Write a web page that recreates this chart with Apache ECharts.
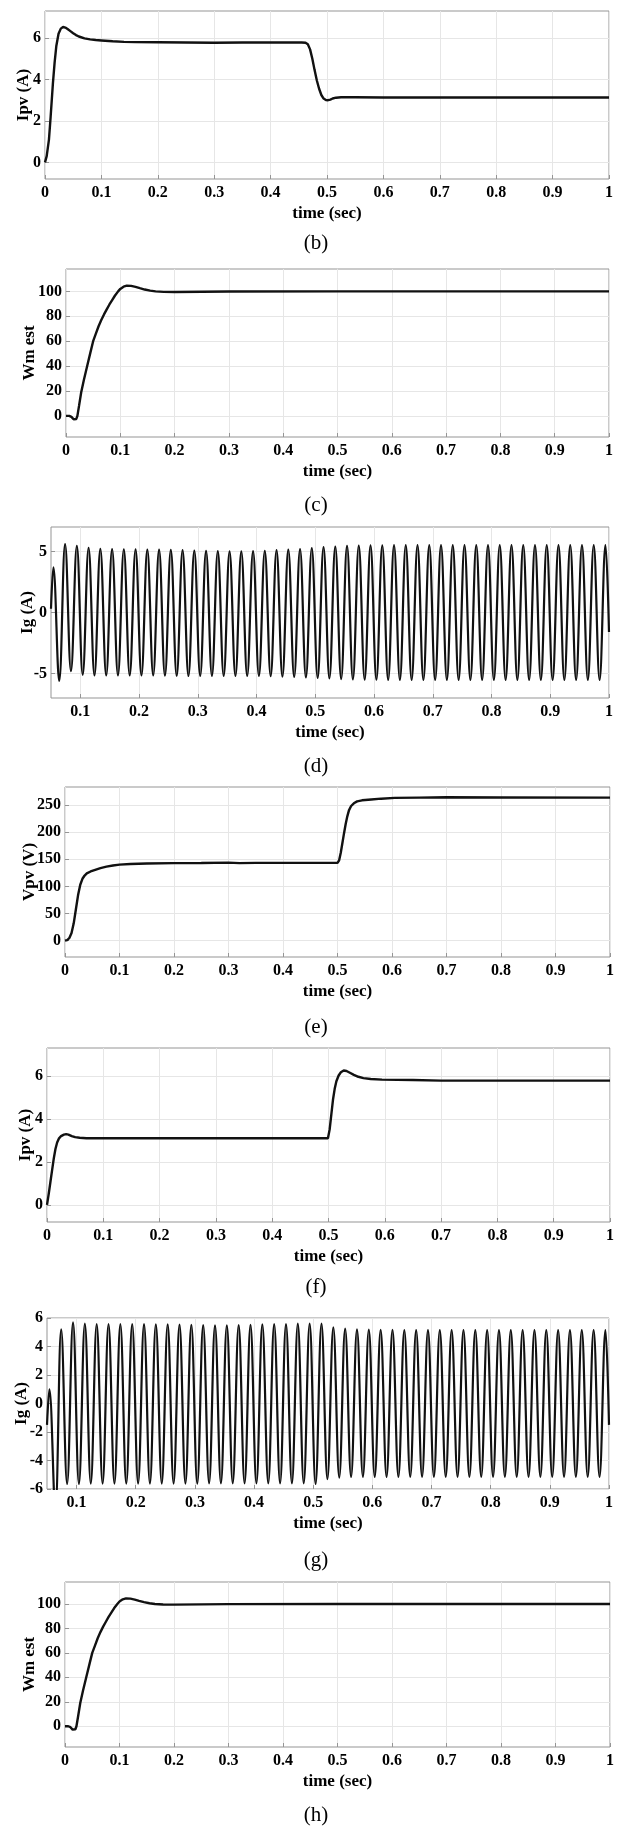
<!DOCTYPE html>
<html>
<head>
<meta charset="utf-8">
<script src="https://cdn.jsdelivr.net/npm/echarts@6/dist/echarts.min.js"></script>
<style>
html,body{margin:0;padding:0;background:#fff;}
#c{width:617px;height:1827px;}
</style>
</head>
<body>
<div id="c"></div>
<script>
// ---- tick values / labels ----
const xTicksFull = [0, 0.1, 0.2, 0.3, 0.4, 0.5, 0.6, 0.7, 0.8, 0.9, 1];
const xTicksIg = [0.1, 0.2, 0.3, 0.4, 0.5, 0.6, 0.7, 0.8, 0.9, 1];
const yTicksIpv = [0, 2, 4, 6];
const yTicksWm = [0, 20, 40, 60, 80, 100];
const yTicksIgD = [-5, 0, 5];
const yTicksVpv = [0, 50, 100, 150, 200, 250];
const yTicksIgG = [-6, -4, -2, 0, 2, 4, 6];
const captions = ['(b)', '(c)', '(d)', '(e)', '(f)', '(g)', '(h)'];
const yNames = ['Ipv (A)', 'Wm est', 'Ig (A)', 'Vpv (V)', 'Ipv (A)', 'Ig (A)', 'Wm est'];
const xName = 'time (sec)';

// ---- series data [time, value] ----
const ipvB = [[0,0],[0.003,0.3],[0.007,1.1],[0.01,2.2],[0.014,3.8],[0.017,4.8],[0.02,5.6],[0.024,6.2],[0.028,6.45],[0.032,6.53],
  [0.036,6.5],[0.04,6.43],[0.045,6.33],[0.05,6.23],[0.055,6.14],[0.06,6.07],[0.07,5.98],[0.08,5.93],[0.09,5.9],[0.1,5.88],
  [0.12,5.84],[0.14,5.81],[0.16,5.8],[0.2,5.79],[0.25,5.78],[0.3,5.77],[0.35,5.78],[0.4,5.78],[0.455,5.78],[0.462,5.77],
  [0.466,5.7],[0.47,5.45],[0.474,5.0],[0.478,4.45],[0.482,3.95],[0.486,3.55],[0.49,3.25],[0.494,3.08],[0.498,3.01],[0.502,3.0],
  [0.506,3.03],[0.51,3.08],[0.516,3.12],[0.525,3.14],[0.55,3.14],[0.6,3.13],[0.8,3.13],[1,3.13]];

const wmC = [[0,0],[0.006,0],[0.01,-0.8],[0.014,-2.8],[0.017,-3.6],[0.019,-2.5],[0.021,0],[0.024,8],[0.028,19],[0.033,29],
  [0.039,40],[0.045,51],[0.05,60],[0.055,66],[0.06,72],[0.065,77],[0.07,81.5],[0.075,85.5],[0.08,89.5],[0.085,93],
  [0.09,96.5],[0.096,100],[0.1,102],[0.106,103.8],[0.112,104.6],[0.12,104.4],[0.128,103.6],[0.136,102.6],[0.145,101.5],[0.155,100.6],
  [0.165,100],[0.18,99.6],[0.2,99.5],[0.25,99.7],[0.3,99.9],[0.5,100],[1,100]];

const igD = [[0.05,0.3],[0.054,3.7],[0.064,-5.6],[0.074,5.6],[0.084,-4.8],[0.094,5.45],[0.104,-5.1],[0.114,5.3],[0.124,-5.15],[0.134,5.22],
  [0.144,-5.15],[0.154,5.2],[0.164,-5.15],[0.174,5.18],[0.184,-5.15],[0.194,5.17],[0.204,-5.15],[0.214,5.15],[0.224,-5.15],[0.234,5.15],
  [0.244,-5.17],[0.254,5.12],[0.264,-5.18],[0.274,5.1],[0.284,-5.2],[0.294,5.07],[0.304,-5.2],[0.314,5.05],[0.324,-5.2],[0.334,5.02],
  [0.344,-5.2],[0.354,5.0],[0.364,-5.2],[0.374,5.0],[0.384,-5.2],[0.394,5.02],[0.404,-5.2],[0.414,5.05],[0.424,-5.22],[0.434,5.1],
  [0.444,-5.25],[0.454,5.15],[0.464,-5.28],[0.474,5.2],[0.484,-5.32],[0.494,5.28],[0.504,-5.35],[0.514,5.35],[0.524,-5.4],[0.534,5.4],
  [0.544,-5.45],[0.554,5.45],[0.564,-5.48],[0.574,5.47],[0.584,-5.5],[0.594,5.5],[0.604,-5.5],[0.614,5.5],[0.624,-5.52],[0.634,5.52],
  [0.644,-5.52],[0.654,5.52],[0.664,-5.52],[0.674,5.52],[0.684,-5.52],[0.694,5.52],[0.704,-5.52],[0.714,5.52],[0.724,-5.52],[0.734,5.52],
  [0.744,-5.52],[0.754,5.52],[0.764,-5.52],[0.774,5.52],[0.784,-5.52],[0.794,5.52],[0.804,-5.52],[0.814,5.52],[0.824,-5.52],[0.834,5.52],
  [0.844,-5.52],[0.854,5.52],[0.864,-5.52],[0.874,5.52],[0.884,-5.52],[0.894,5.52],[0.904,-5.52],[0.914,5.52],[0.924,-5.52],[0.934,5.52],
  [0.944,-5.52],[0.954,5.52],[0.964,-5.52],[0.974,5.52],[0.984,-5.52],[0.994,5.52],[1.0,-1.6]];

const vpvE = [[0,0],[0.004,1],[0.008,5],[0.012,14],[0.016,32],[0.02,58],[0.024,84],[0.028,103],[0.032,114],[0.036,120],
  [0.04,124],[0.047,127.5],[0.054,130],[0.065,133.5],[0.076,136.5],[0.088,138.5],[0.1,140],[0.12,141.3],[0.15,142.2],[0.2,142.8],
  [0.25,143.2],[0.3,143.8],[0.32,142.8],[0.35,143.3],[0.4,143.3],[0.45,143.3],[0.5,143.3],[0.503,148],[0.506,162],[0.509,180],
  [0.512,198],[0.515,215],[0.518,229],[0.521,240],[0.525,248],[0.53,253],[0.536,256.5],[0.545,258.5],[0.562,260],[0.58,261.5],
  [0.605,263],[0.65,263.5],[0.7,264],[0.8,263.8],[1,263.5]];

const ipvF = [[0,0],[0.003,0.5],[0.006,1.05],[0.009,1.6],[0.012,2.15],[0.015,2.6],[0.018,2.9],[0.021,3.08],[0.025,3.2],[0.03,3.27],
  [0.034,3.29],[0.038,3.27],[0.044,3.2],[0.05,3.15],[0.058,3.12],[0.07,3.1],[0.1,3.1],[0.2,3.1],[0.3,3.1],[0.4,3.1],
  [0.499,3.1],[0.502,3.5],[0.505,4.2],[0.508,4.9],[0.511,5.4],[0.514,5.75],[0.518,6.02],[0.522,6.17],[0.527,6.25],[0.532,6.23],
  [0.538,6.15],[0.545,6.05],[0.553,5.96],[0.562,5.9],[0.575,5.86],[0.595,5.83],[0.65,5.81],[0.7,5.78],[0.8,5.78],[1,5.78]];

const igG = [[0.05,-1.5],[0.054,1.0],[0.064,-7.5],[0.074,5.2],[0.084,-5.65],[0.094,5.7],[0.104,-5.65],[0.114,5.6],[0.124,-5.62],[0.134,5.58],
  [0.144,-5.62],[0.154,5.58],[0.164,-5.62],[0.174,5.58],[0.184,-5.62],[0.194,5.58],[0.204,-5.62],[0.214,5.57],[0.224,-5.62],[0.234,5.56],
  [0.244,-5.62],[0.254,5.55],[0.264,-5.62],[0.274,5.54],[0.284,-5.62],[0.294,5.52],[0.304,-5.62],[0.314,5.5],[0.324,-5.6],[0.334,5.48],
  [0.344,-5.6],[0.354,5.48],[0.364,-5.6],[0.374,5.5],[0.384,-5.6],[0.394,5.52],[0.404,-5.6],[0.414,5.55],[0.424,-5.6],[0.434,5.57],
  [0.444,-5.6],[0.454,5.58],[0.464,-5.6],[0.474,5.6],[0.484,-5.6],[0.494,5.6],[0.504,-5.65],[0.514,5.6],[0.524,-5.3],[0.534,5.35],
  [0.544,-5.2],[0.554,5.25],[0.564,-5.15],[0.574,5.2],[0.584,-5.15],[0.594,5.18],[0.604,-5.15],[0.614,5.17],[0.624,-5.15],[0.634,5.16],
  [0.644,-5.15],[0.654,5.15],[0.664,-5.15],[0.674,5.15],[0.684,-5.15],[0.694,5.15],[0.704,-5.15],[0.714,5.15],[0.724,-5.15],[0.734,5.15],
  [0.744,-5.15],[0.754,5.15],[0.764,-5.15],[0.774,5.15],[0.784,-5.15],[0.794,5.15],[0.804,-5.15],[0.814,5.15],[0.824,-5.15],[0.834,5.15],
  [0.844,-5.15],[0.854,5.15],[0.864,-5.15],[0.874,5.15],[0.884,-5.15],[0.894,5.15],[0.904,-5.15],[0.914,5.15],[0.924,-5.15],[0.934,5.15],
  [0.944,-5.15],[0.954,5.15],[0.964,-5.15],[0.974,5.15],[0.984,-5.15],[0.994,5.15],[1.0,-1.5]];

const wmH = [[0,0],[0.006,0],[0.01,-0.8],[0.014,-2.8],[0.017,-3.6],[0.019,-2.5],[0.021,0],[0.024,8],[0.028,19],[0.033,29],
  [0.039,40],[0.045,51],[0.05,60],[0.055,66],[0.06,72],[0.065,77],[0.07,81.5],[0.075,85.5],[0.08,89.5],[0.085,93],
  [0.09,96.5],[0.096,100],[0.1,102],[0.106,103.8],[0.112,104.6],[0.12,104.4],[0.128,103.6],[0.136,102.6],[0.145,101.5],[0.155,100.6],
  [0.165,100],[0.18,99.6],[0.2,99.5],[0.25,99.7],[0.3,99.9],[0.5,100],[1,100]];

// ---- layout ----
const FONT = "'Liberation Serif', 'Times New Roman', serif";
const panels = [
  {grid:{left:45, top:11, width:564, height:168}, x:[0,1], xt:xTicksFull, y:[-0.8,7.3], yt:yTicksIpv, data:ipvB, smooth:false, ng:13, cy:243},
  {grid:{left:66, top:269, width:543, height:168}, x:[0,1], xt:xTicksFull, y:[-17,118], yt:yTicksWm, data:wmC, smooth:false, ng:28, cy:505},
  {grid:{left:51, top:527, width:558, height:171}, x:[0.05,1], xt:xTicksIg, y:[-7,7], yt:yTicksIgD, data:igD, smooth:0.4, ng:15, cy:766},
  {grid:{left:65, top:787, width:545, height:170}, x:[0,1], xt:xTicksFull, y:[-30,283], yt:yTicksVpv, data:vpvE, smooth:false, ng:27, cy:1027},
  {grid:{left:47, top:1048, width:563, height:174}, x:[0,1], xt:xTicksFull, y:[-0.8,7.3], yt:yTicksIpv, data:ipvF, smooth:false, ng:13, cy:1287},
  {grid:{left:47, top:1318, width:562, height:171}, x:[0.05,1], xt:xTicksIg, y:[-6,6], yt:yTicksIgG, data:igG, smooth:0.4, ng:17, cy:1560},
  {grid:{left:65, top:1582, width:545, height:165}, x:[0,1], xt:xTicksFull, y:[-17,118], yt:yTicksWm, data:wmH, smooth:false, ng:27, cy:1815}
];

const labelStyle = {color:'#000', fontFamily:FONT, fontWeight:'bold', fontSize:16};
const nameStyle = {color:'#000', fontFamily:FONT, fontWeight:'bold', fontSize:17};
const grids = [], xAxes = [], yAxes = [], series = [], graphics = [];
panels.forEach((p, i) => {
  grids.push(Object.assign({show:true, borderColor:'#959595', borderWidth:1, backgroundColor:'#fff', containLabel:false, outerBoundsMode:'none'}, p.grid));
  xAxes.push({
    type:'value', gridIndex:i, min:p.x[0], max:p.x[1],
    name:xName, nameLocation:'middle', nameGap:26, nameMoveOverlap:false,
    nameTextStyle:nameStyle,
    axisLine:{show:false, onZero:false},
    axisTick:{show:true, inside:true, length:4, customValues:p.xt, lineStyle:{color:'#959595'}},
    axisLabel:Object.assign({margin:6, customValues:p.xt, formatter:(v)=>String(v), showMinLabel:true, showMaxLabel:true, hideOverlap:false}, labelStyle),
    splitLine:{show:true, lineStyle:{color:'#e6e6e6', width:1}}
  });
  yAxes.push({
    type:'value', gridIndex:i, min:p.y[0], max:p.y[1],
    name:yNames[i], nameLocation:'middle', nameGap:p.ng, nameRotate:90, nameMoveOverlap:false,
    nameTextStyle:nameStyle,
    axisLine:{show:false, onZero:false},
    axisTick:{show:true, inside:true, length:4, customValues:p.yt, lineStyle:{color:'#959595'}},
    axisLabel:Object.assign({margin:4, customValues:p.yt, formatter:(v)=>String(v), showMinLabel:true, showMaxLabel:true, hideOverlap:false}, labelStyle),
    splitLine:{show:true, lineStyle:{color:'#e6e6e6', width:1}}
  });
  series.push({
    type:'line', xAxisIndex:i, yAxisIndex:i, data:p.data, showSymbol:false, symbol:'none',
    smooth:p.smooth, clip:true, lineStyle:{color:'#111', width:p.smooth ? 2.2 : 2.4}, z:5
  });
  graphics.push({
    type:'text', x:316, y:p.cy,
    style:{text:captions[i], fill:'#000', font:'21px ' + FONT, textAlign:'center', textVerticalAlign:'middle'}
  });
});

const chart = echarts.init(document.getElementById('c'), null, {renderer:'canvas', width:617, height:1827});
chart.setOption({
  animation:false,
  backgroundColor:'#fff',
  grid:grids, xAxis:xAxes, yAxis:yAxes, series:series,
  graphic:graphics
});
</script>
</body>
</html>
